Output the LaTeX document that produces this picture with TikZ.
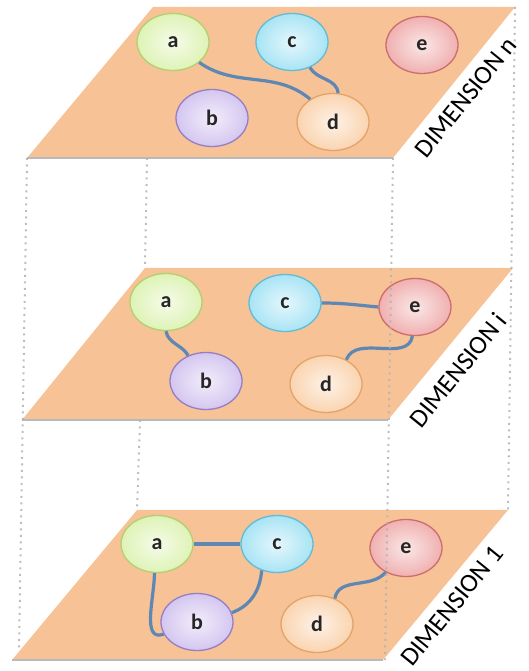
\documentclass[tikz,border=0pt]{standalone}
\usepackage{fontspec}
\setmainfont{Carlito}
\usetikzlibrary{shapes.geometric}

\definecolor{planefill}{RGB}{246,194,150}
\definecolor{linkblue}{RGB}{95,135,180}
\definecolor{fillA}{RGB}{222,243,182}
\definecolor{edgeA}{RGB}{178,208,112}
\definecolor{fillB}{RGB}{212,198,240}
\definecolor{edgeB}{RGB}{150,126,196}
\definecolor{fillC}{RGB}{168,228,245}
\definecolor{edgeC}{RGB}{98,188,214}
\definecolor{fillD}{RGB}{250,212,176}
\definecolor{edgeD}{RGB}{228,164,104}
\definecolor{fillE}{RGB}{240,176,176}
\definecolor{edgeE}{RGB}{204,110,110}

\tikzset{
  dimplane/.style={fill=planefill},
  planebase/.style={draw=gray!55, line width=1.5pt},
  guide/.style={draw=gray!60, line width=2pt, dash pattern=on 2pt off 4.5pt, opacity=0.85},
  vertex/.style={ellipse, minimum width=72pt, minimum height=57pt, inner sep=0pt, line width=1.3pt,
    font=\fontsize{22}{22}\bfseries\selectfont, text=black!85},
  vertA/.style={vertex, draw=edgeA, inner color=fillA!30!white, outer color=fillA},
  vertB/.style={vertex, draw=edgeB, inner color=fillB!30!white, outer color=fillB},
  vertC/.style={vertex, draw=edgeC, inner color=fillC!30!white, outer color=fillC},
  vertD/.style={vertex, draw=edgeD, inner color=fillD!30!white, outer color=fillD},
  vertE/.style={vertex, draw=edgeE, inner color=fillE!30!white, outer color=fillE},
  link/.style={draw=linkblue, line width=3.2pt},
  dimlabel/.style={rotate=51, inner sep=0pt, font=\fontsize{26}{26}\selectfont}
}

\begin{document}
\begin{tikzpicture}[x=1pt,y=1pt]
\useasboundingbox (0,0) rectangle (529,671);

\coordinate (n-tl) at (153,664);
\coordinate (n-tr) at (515,664);
\coordinate (n-br) at (393,513);
\coordinate (n-bl) at (27,513);
\coordinate (i-tl) at (145,403);
\coordinate (i-tr) at (513,403);
\coordinate (i-br) at (388,251);
\coordinate (i-bl) at (22,251);
\coordinate (o-tl) at (137,161);
\coordinate (o-tr) at (508,161);
\coordinate (o-br) at (383,11);
\coordinate (o-bl) at (12,11);

\fill[dimplane] (n-tl) -- (n-tr) -- (n-br) -- (n-bl) -- cycle;
\draw[planebase] (n-bl) -- (n-br);
\fill[dimplane] (i-tl) -- (i-tr) -- (i-br) -- (i-bl) -- cycle;
\draw[planebase] (i-bl) -- (i-br);
\fill[dimplane] (o-tl) -- (o-tr) -- (o-br) -- (o-bl) -- cycle;
\draw[planebase] (o-bl) -- (o-br);

% dimension n
\node[vertA] (an) at (173,629) {a};
\node[vertC] (cn) at (292,629) {c};
\node[vertE] (en) at (422,626) {e};
\node[vertB] (bn) at (212,553) {b};
\node[vertD] (dn) at (333,549) {d};
\draw[link] (an.-38) to[out=-35,in=140] (dn.135);
\draw[link] (cn.-55) to[out=-60,in=95] (dn.80);

% dimension i
\node[vertA] (ai) at (166,369) {a};
\node[vertC] (ci) at (285,368) {c};
\node[vertE] (ei) at (415,364) {e};
\node[vertB] (bi) at (206,290) {b};
\node[vertD] (di) at (326,287) {d};
\draw[link] (ai.-90) to[out=-80,in=120] (bi.125);
\draw[link] (ci.east) to[out=0,in=175] (ei.west);
\draw[link] (di.50) to[out=70,in=-100] (ei.-95);

% dimension 1
\node[vertA] (a1) at (157,127) {a};
\node[vertC] (c1) at (277,127) {c};
\node[vertE] (e1) at (406,123) {e};
\node[vertB] (b1) at (197,49) {b};
\node[vertD] (d1) at (317,47) {d};
\draw[link] (a1.east) -- (c1.west);
\draw[link] (a1.-95) to[out=-90,in=200] (b1.200);
\draw[link] (c1.-120) to[out=-95,in=20] (b1.15);
\draw[link] (d1.55) to[out=80,in=-130] (e1.-130);

\coordinate (g1) at (19,21);
\coordinate (g2) at (147,513);
\coordinate (g3) at (140,251);
\coordinate (g4) at (385,11);
\draw[guide] (n-bl) -- (g1);
\draw[guide] (g2) -- (i-tl);
\draw[guide] (g3) -- (o-tl);
\draw[guide] (n-br) -- (g4);
\draw[guide] (n-tr) -- (o-tr);

\node[dimlabel] (dimn) at (466,574) {DIMENSION n};
\node[dimlabel] (dimi) at (458,301) {DIMENSION i};
\node[dimlabel] (dim1) at (452,65) {DIMENSION 1};
\end{tikzpicture}
\end{document}
